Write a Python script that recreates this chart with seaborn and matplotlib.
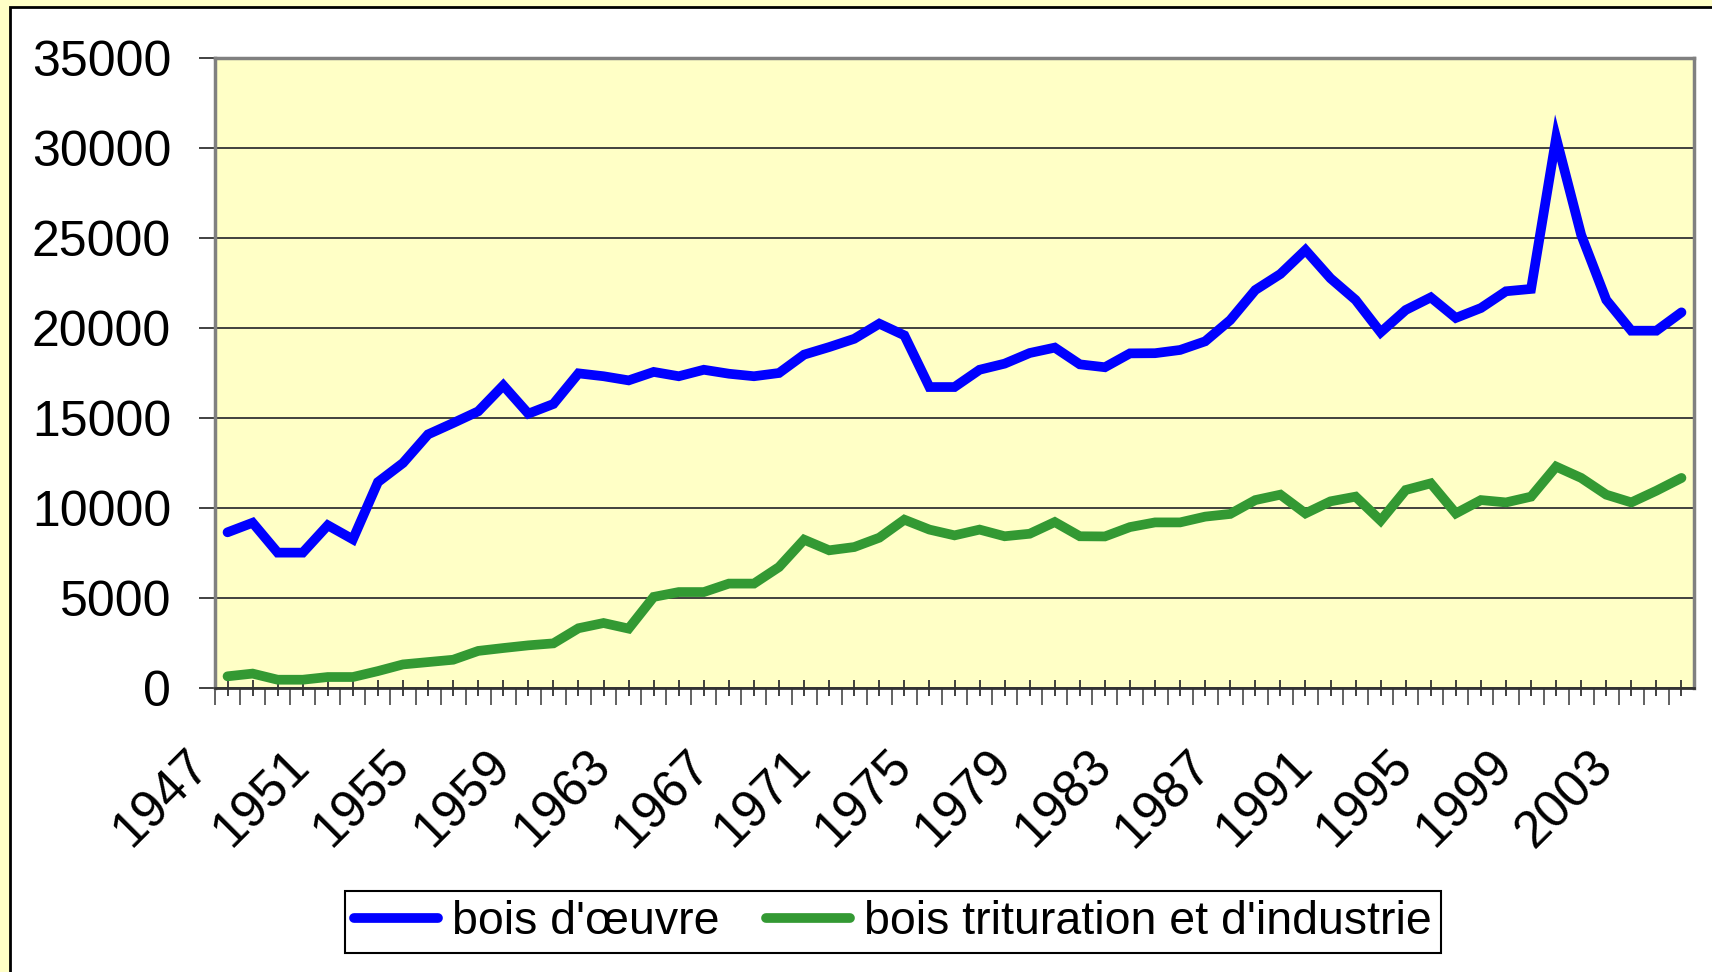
"""
Recolte de bois en France 1947-2005 : bois d'oeuvre vs bois de trituration
"""

import pandas as pd
import matplotlib.pyplot as plt
import matplotlib.transforms as mtransforms
from matplotlib.patches import Rectangle
from matplotlib.lines import Line2D
import seaborn as sns

sns.set_theme(style='white')
plt.rcParams['font.family'] = ['Liberation Sans', 'DejaVu Sans']
plt.rcParams['text.color'] = 'black'
plt.rcParams['xtick.labelcolor'] = 'black'
plt.rcParams['ytick.labelcolor'] = 'black'

# Donnees (milliers de m3)
annees = list(range(1947, 2006))
bois_oeuvre = [8650, 9180, 7520, 7520, 9040, 8260, 11440, 12500, 14090, 14720,
               15370, 16810, 15240, 15780, 17480, 17320, 17090, 17560, 17320, 17680,
               17460, 17320, 17500, 18520, 18940, 19400, 20240, 19590, 16720, 16720,
               17680, 18020, 18610, 18910, 17980, 17820, 18590, 18600, 18780, 19260,
               20440, 22110, 23000, 24330, 22760, 21560, 19760, 21000, 21700, 20560,
               21110, 22040, 22170, 30560, 25170, 21560, 19850, 19850, 20870]
bois_trituration = [650, 800, 460, 460, 610, 610, 940, 1310, 1440, 1570,
                    2060, 2220, 2370, 2480, 3320, 3610, 3300, 5060, 5330, 5330,
                    5800, 5800, 6720, 8240, 7650, 7830, 8350, 9350, 8800, 8480,
                    8800, 8430, 8570, 9220, 8430, 8420, 8940, 9200, 9200, 9520,
                    9670, 10440, 10740, 9700, 10370, 10630, 9300, 11000, 11370, 9700,
                    10440, 10310, 10630, 12300, 11670, 10740, 10310, 10960, 11670]
series = ["bois d'œuvre", "bois trituration et d'industrie"]
couleurs = {series[0]: '#0000FF', series[1]: '#339933'}
y_ticks = list(range(0, 35001, 5000))

df = pd.DataFrame({
    'annee': annees * 2,
    'volume': bois_oeuvre + bois_trituration,
    'serie': [series[0]] * len(annees) + [series[1]] * len(annees),
})

jaune = '#FFFFC6'

fig = plt.figure(figsize=(17.12, 9.72), dpi=100, facecolor=jaune)
# zone blanche du graphique
fig.add_artist(Rectangle((10 / 1712, -0.02), 1.1, 1.02 - 7 / 972,
                         transform=fig.transFigure, facecolor='white',
                         edgecolor='black', linewidth=2, zorder=-1))

ax = fig.add_axes([215 / 1712, 1 - 688 / 972, (1694 - 215) / 1712, (688 - 58) / 972])
ax.set_facecolor(jaune)

sns.lineplot(data=df, x='annee', y='volume', hue='serie', palette=couleurs,
             linewidth=7, ax=ax, legend=False, solid_joinstyle='miter')

ax.set_xlim(annees[0] - 0.5, annees[-1] + 0.5)
ax.set_ylim(0, 35000)
ax.set_xlabel('')
ax.set_ylabel('')

# axe Y
ax.set_yticks(y_ticks)
ax.set_yticklabels([str(v) for v in y_ticks], fontsize=36)
ax.yaxis.grid(True, color='#333333', linewidth=1.3)
ax.set_axisbelow(True)
ax.tick_params(axis='y', direction='out', length=11.5, width=1.3, pad=20,
               color='#333333', left=True)

# axe X : une graduation par annee, etiquette tous les 4 ans
ax.set_xticks(annees)
ax.set_xticklabels([str(a) if (a - 1947) % 4 == 0 else '' for a in annees],
                   fontsize=37, rotation=45, ha='right', va='center',
                   rotation_mode='anchor')
ax.set_xticks([a + 0.5 for a in annees[:-1]] + [annees[0] - 0.5], minor=True)
ax.tick_params(axis='x', which='major', direction='inout', length=12, width=1.3,
               pad=45, color='#333333', bottom=True)
ax.tick_params(axis='x', which='minor', direction='out', length=12, width=1.3,
               color='#555555', bottom=True)
decalage = mtransforms.ScaledTranslation(-26 / 100, 0, fig.dpi_scale_trans)
for lab in ax.get_xticklabels():
    lab.set_transform(lab.get_transform() + decalage)

for cote in ['left', 'right', 'top']:
    ax.spines[cote].set_color('#808080')
    ax.spines[cote].set_linewidth(2.5)
ax.spines['bottom'].set_color('#333333')
ax.spines['bottom'].set_linewidth(2)

# legende
handles = [Line2D([0], [0], color=couleurs[s], linewidth=7) for s in series]
leg = fig.legend(handles, series, loc='center', bbox_to_anchor=(893 / 1712, 1 - 922 / 972),
                 ncol=2, frameon=True, fancybox=False, fontsize=33.5,
                 handlelength=1.8, handletextpad=0.3, columnspacing=1.0,
                 borderpad=0.2, facecolor='white', edgecolor='black')
leg.get_frame().set_linewidth(1.5)
leg.get_frame().set_alpha(1)

plt.savefig('out.png', dpi=100, facecolor=fig.get_facecolor())
plt.close()
